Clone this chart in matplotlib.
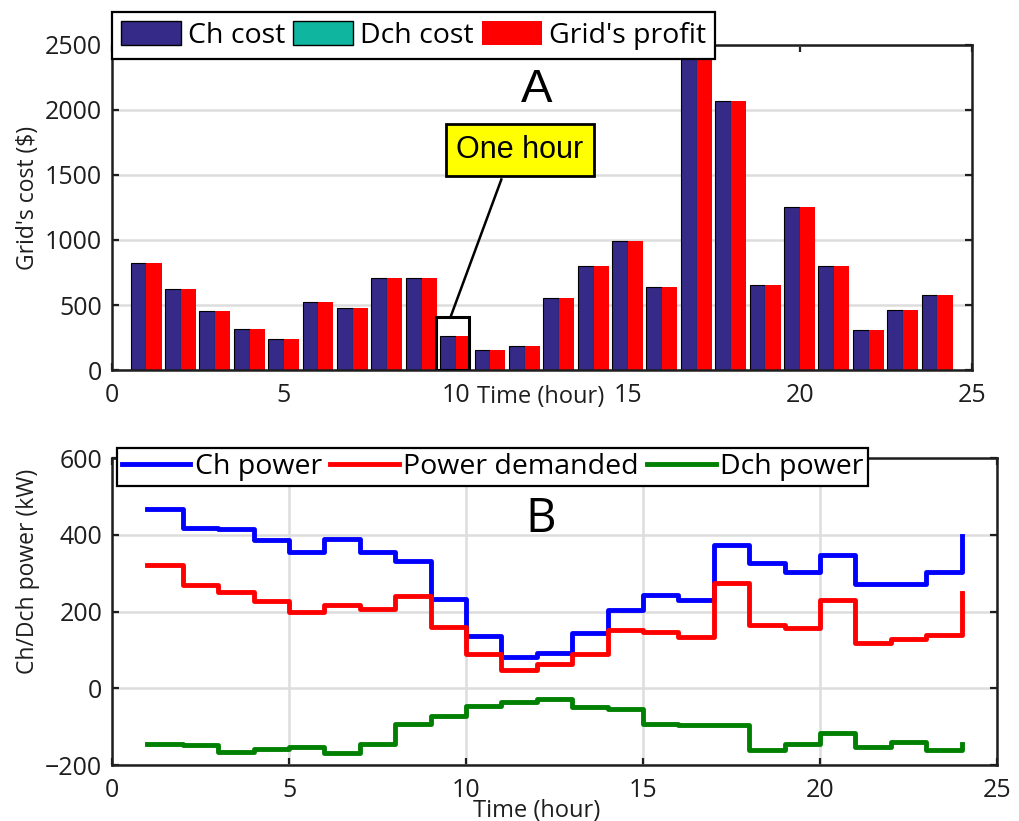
import numpy as np
import matplotlib
matplotlib.use("Agg")
import matplotlib.pyplot as plt
from matplotlib.patches import Rectangle, Patch

plt.rcParams['font.family'] = ['Open Sans', 'DejaVu Sans']

# Hourly costs ($)
hours = np.arange(1, 25)
ch_cost = [823, 626, 452, 319, 242, 526, 480, 710, 705, 265, 155, 188,
           554, 797, 989, 636, 2600, 2070, 654, 1250, 802, 311, 465, 580]
dch_cost = [0] * 24
grid_profit = [823, 626, 452, 319, 242, 526, 480, 710, 705, 265, 155, 188,
               554, 797, 989, 636, 2600, 2070, 654, 1250, 802, 311, 465, 580]

# Hourly power (kW)
ch_power = [467, 418, 415, 386, 355, 388, 354, 332, 233, 136, 82, 92,
            144, 203, 243, 231, 373, 327, 303, 347, 271, 271, 304, 397]
power_demanded = [320, 270, 250, 228, 200, 217, 207, 240, 160, 88, 47, 63,
                  90, 151, 147, 134, 275, 164, 156, 230, 117, 128, 138, 247]
dch_power = [-146, -148, -166, -157, -153, -169, -146, -92, -71, -47, -36, -27,
             -49, -53, -92, -97, -96, -160, -144, -116, -153, -140, -162, -144]

highlight_hour = 10

C_CH = '#352a87'
C_DCH = '#0fb59e'
C_RED = '#ff0000'
AX_COL = '#1e1e1e'


def style_axes(ax):
    for s in ax.spines.values():
        s.set_linewidth(1.8)
        s.set_color(AX_COL)
    ax.tick_params(direction='in', length=5, width=1.6, top=True, right=True,
                   labelsize=18, labelcolor=AX_COL, color=AX_COL)
    ax.tick_params(axis='x', pad=9)
    ax.tick_params(axis='y', pad=7)
    ax.set_axisbelow(True)


fig = plt.figure(figsize=(10.2, 8.21), dpi=100)

# ---- A: costs per hour ----
ax1 = fig.add_axes([0.1098, 0.5493, 0.843, 0.396])
style_axes(ax1)
ax1.bar(hours - 0.46, ch_cost, width=0.46, align='edge', color=C_CH,
        edgecolor='black', linewidth=0.8, zorder=2)
ax1.bar(hours, dch_cost, width=0.0, align='edge', color=C_DCH, linewidth=0, zorder=2)
ax1.bar(hours, grid_profit, width=0.44, align='edge', color=C_RED,
        linewidth=0, zorder=2)
ax1.set_xlim(0, 25)
ax1.set_ylim(0, 2500)
ax1.set_xticks(np.arange(0, 26, 5))
ax1.set_yticks(np.arange(0, 2501, 500))
ax1.yaxis.grid(True, color='#dddddd', linewidth=1.8)
ax1.set_xlabel('Time (hour)', fontsize=17, color=AX_COL)
ax1.xaxis.set_label_coords(0.498, -0.045)
ax1.set_ylabel("Grid's cost ($)", fontsize=16.5, color=AX_COL)
ax1.yaxis.set_label_coords(-0.084, 0.53)

# box around one hour with callout
hv = ch_cost[highlight_hour - 1]
ax1.add_patch(Rectangle((highlight_hour - 0.57, 0), 0.96, hv * 1.53, fill=False,
                        edgecolor='black', linewidth=2.2, zorder=3))
ax1.plot([highlight_hour - 0.16, highlight_hour + 1.32], [hv * 1.53, 1465],
         color='black', linewidth=1.8, zorder=3)
ax1.text(highlight_hour + 1.86, 1691, 'One hour', family='Liberation Sans',
         fontsize=22, ha='center', va='center', zorder=4,
         bbox=dict(boxstyle='square,pad=0.35', facecolor='#ffff00',
                   edgecolor='black', linewidth=2))
ax1.text(0.494, 0.86, 'A', transform=ax1.transAxes, family='Liberation Sans',
         fontsize=34, ha='center', va='center')

h1 = [Patch(facecolor=C_CH, edgecolor='black', linewidth=1),
      Patch(facecolor=C_DCH, edgecolor='black', linewidth=1),
      Patch(facecolor=C_RED, edgecolor='none')]
leg1 = ax1.legend(h1, ['Ch cost', 'Dch cost', "Grid's profit"], ncol=3,
                  loc='upper left', bbox_to_anchor=(112 / 1020, 1 - 12 / 821),
                  bbox_transform=fig.transFigure, fontsize=20.5, frameon=True,
                  fancybox=False, framealpha=1, edgecolor='black',
                  handlelength=2.1, handleheight=0.9, handletextpad=0.25,
                  columnspacing=0.28, borderpad=0.32, borderaxespad=0)
leg1.get_frame().set_linewidth(1.6)
leg1.set_zorder(10)

# ---- B: power per hour ----
ax2 = fig.add_axes([0.1098, 0.0682, 0.8677, 0.3739])
style_axes(ax2)
ax2.step(hours, ch_power, where='post', color='#0000ff', linewidth=3.5, label='Ch power')
ax2.step(hours, power_demanded, where='post', color=C_RED, linewidth=3.5,
         label='Power demanded')
ax2.step(hours, dch_power, where='post', color='#008000', linewidth=3.5, label='Dch power')
ax2.set_xlim(0, 25)
ax2.set_ylim(-200, 600)
ax2.set_xticks(np.arange(0, 26, 5))
ax2.set_yticks(np.arange(-200, 601, 200))
ax2.set_yticklabels(['\u2212200', '0', '200', '400', '600'])
ax2.grid(True, color='#dddddd', linewidth=1.8)
ax2.set_xlabel('Time (hour)', fontsize=17, color=AX_COL)
ax2.xaxis.set_label_coords(0.48, -0.11)
ax2.set_ylabel('Ch/Dch power (kW)', fontsize=16.5, color=AX_COL)
ax2.yaxis.set_label_coords(-0.081, 0.63)
ax2.text(0.484, 0.80, 'B', transform=ax2.transAxes, fontsize=34,
         ha='center', va='center')

leg2 = ax2.legend(ncol=3, loc='upper left', bbox_to_anchor=(117 / 1020, 1 - 448 / 821),
                  bbox_transform=fig.transFigure, fontsize=20.5, frameon=True,
                  fancybox=False, framealpha=1, edgecolor='black',
                  handlelength=2.4, handletextpad=0.15, columnspacing=0.3,
                  borderpad=0.18, borderaxespad=0)
leg2.get_frame().set_linewidth(1.6)

fig.savefig('out.png', dpi=100, facecolor='white')
